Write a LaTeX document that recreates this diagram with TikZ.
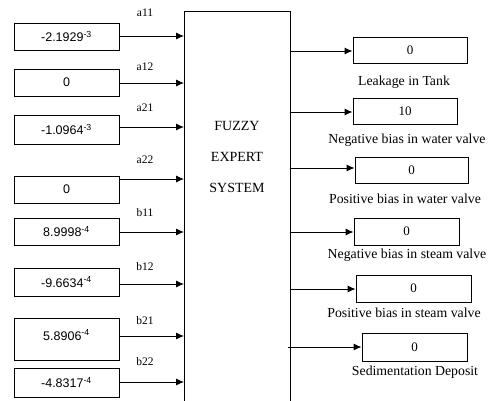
\documentclass[tikz,border=0pt]{standalone}
\usepackage{fontspec}
\setmainfont{Liberation Serif}
\newfontfamily\valfont{Liberation Sans}
\usetikzlibrary{arrows.meta}
\newcommand{\sexp}[1]{\textsuperscript{#1}}
\begin{document}
\begin{tikzpicture}[x=1pt,y=-1pt,
  inbox/.style={draw,line width=0.9pt,inner sep=0pt,minimum width=105pt,minimum height=27pt,
    font=\valfont\fontsize{12.5}{14}\selectfont},
  outbox/.style={draw,line width=0.9pt,inner sep=0pt,minimum height=26pt,
    font=\fontsize{13}{15}\selectfont},
  inlab/.style={font=\fontsize{11.5}{13}\selectfont,inner sep=0pt},
  outlab/.style={font=\fontsize{13.8}{16}\selectfont,inner sep=0pt},
  core/.style={font=\fontsize{14}{16}\selectfont,inner sep=0pt},
  arr/.style={line width=0.9pt,-{Latex[length=8pt,width=7pt]}}
]
\useasboundingbox (0,0) rectangle (488,401);
% main block (open at the bottom)
\draw[line width=0.9pt] (184,405) -- (184,11) -- (290,11) -- (290,405);
\node[core] (t1) at (237,126) {FUZZY};
\node[core] (t2) at (237,157) {EXPERT};
\node[core] (t3) at (237,188) {SYSTEM};

% inputs
\node[inbox] (in1) at (66.5,36.5) {-2.1929\sexp{-3}};
\node[inbox] (in2) at (66.5,82.5) {0};
\node[inbox,minimum height=29pt] (in3) at (66.5,129.5) {-1.0964\sexp{-3}};
\node[inbox] (in4) at (66.5,189.5) {0};
\node[inbox] (in5) at (66.5,231.5) {8.9998\sexp{-4}};
\node[inbox,minimum height=28pt] (in6) at (66.5,282) {-9.6634\sexp{-4}};
\node[inbox,minimum height=42pt] (in7) at (66.5,339) {};
\node[font=\valfont\fontsize{12.5}{14}\selectfont,inner sep=0pt] (v7) at ([yshift=4pt]in7.center) {5.8906\sexp{-4}};
\node[inbox,minimum height=29pt] (in8) at (66.5,382.5) {-4.8317\sexp{-4}};

\coordinate (a1) at (184,36);
\coordinate (a2) at (184,83);
\coordinate (a3) at (184,127);
\coordinate (a4) at (184,179);
\coordinate (a5) at (184,232);
\coordinate (a6) at (184,284);
\coordinate (a7) at (184,336);
\coordinate (a8) at (184,382);
\foreach \i in {1,...,8} \draw[arr] (in\i.east |- a\i) -- (a\i);

\node[inlab] (l1) at (145,13) {a11};
\node[inlab] (l2) at (145,67) {a12};
\node[inlab] (l3) at (145,108) {a21};
\node[inlab] (l4) at (145,160) {a22};
\node[inlab] (l5) at (145,213) {b11};
\node[inlab] (l6) at (145,267) {b12};
\node[inlab] (l7) at (145,321) {b21};
\node[inlab] (l8) at (145,362) {b22};

% outputs
\node[outbox,minimum width=114pt] (o1) at (410,50) {0};
\node[outbox,minimum width=104pt] (o2) at (405,111) {10};
\node[outbox,minimum width=113pt] (o3) at (411.5,170) {0};
\node[outbox,minimum width=105pt,minimum height=27pt] (o4) at (406.5,231.5) {0};
\node[outbox,minimum width=115pt,minimum height=27pt] (o5) at (413.5,288.5) {0};
\node[outbox,minimum width=105pt,minimum height=28pt] (o6) at (414.5,347) {0};

\coordinate (s1) at (290,51);
\coordinate (s2) at (290,112);
\coordinate (s3) at (290,168);
\coordinate (s4) at (290,232);
\coordinate (s5) at (290,289);
\coordinate (s6) at (288,347);
\foreach \i in {1,...,6} \draw[arr] (s\i) -- (o\i.west |- s\i);

\node[outlab] (n1) at (404,82) {Leakage in Tank};
\node[outlab] (n2) at (407,140) {Negative bias in water valve};
\node[outlab] (n3) at (405,199) {Positive bias in water valve};
\node[outlab] (n4) at (407,255) {Negative bias in steam valve};
\node[outlab] (n5) at (404,313) {Positive bias in steam valve};
\node[outlab] (n6) at (415,372) {Sedimentation Deposit};
\end{tikzpicture}
\end{document}
